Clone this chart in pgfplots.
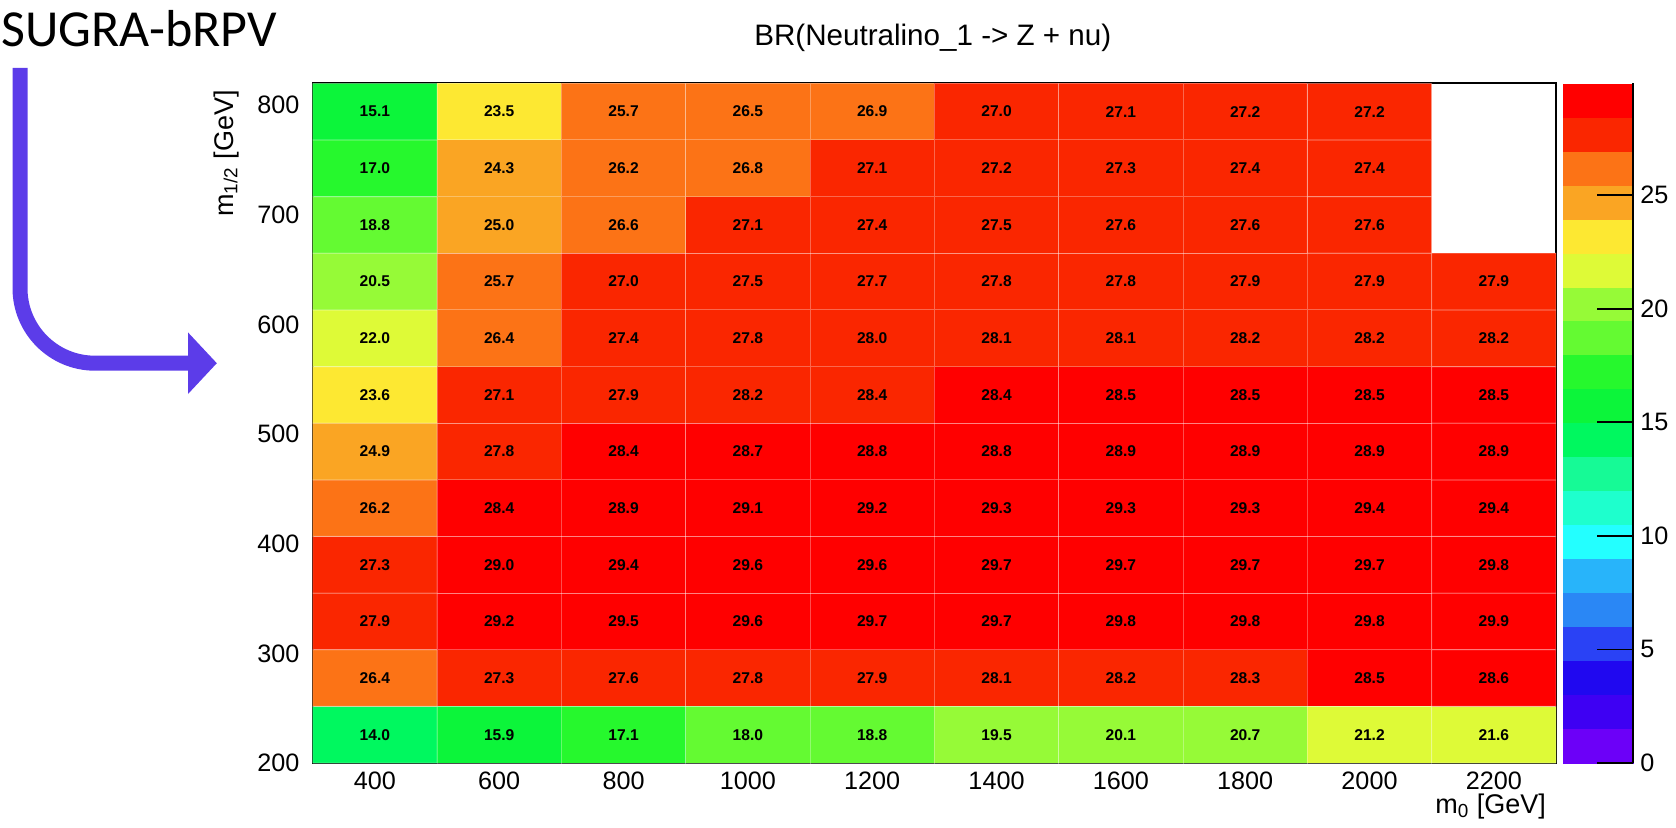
\documentclass[border=0pt]{standalone}
\usepackage{fontspec}
\setmainfont{Liberation Sans}
\newfontfamily\calibri{Carlito}
\usepackage{pgfplots}
\usepackage{pgfplotstable}
\pgfplotsset{compat=1.18}

\definecolor{arrowpurple}{RGB}{92,60,233}

% BR(chi_1^0 -> Z nu) in %, cells of 200 GeV in m0 and 620/12 GeV in m1/2
% rows m1/2 = 225.8 ... 639.2, all ten m0 columns
\pgfplotstableread{
x y v
400 225.8333 14.0
600 225.8333 15.9
800 225.8333 17.1
1000 225.8333 18.0
1200 225.8333 18.8
1400 225.8333 19.5
1600 225.8333 20.1
1800 225.8333 20.7
2000 225.8333 21.2
2200 225.8333 21.6
400 277.5 26.4
600 277.5 27.3
800 277.5 27.6
1000 277.5 27.8
1200 277.5 27.9
1400 277.5 28.1
1600 277.5 28.2
1800 277.5 28.3
2000 277.5 28.5
2200 277.5 28.6
400 329.1667 27.9
600 329.1667 29.2
800 329.1667 29.5
1000 329.1667 29.6
1200 329.1667 29.7
1400 329.1667 29.7
1600 329.1667 29.8
1800 329.1667 29.8
2000 329.1667 29.8
2200 329.1667 29.9
400 380.8333 27.3
600 380.8333 29.0
800 380.8333 29.4
1000 380.8333 29.6
1200 380.8333 29.6
1400 380.8333 29.7
1600 380.8333 29.7
1800 380.8333 29.7
2000 380.8333 29.7
2200 380.8333 29.8
400 432.5 26.2
600 432.5 28.44
800 432.5 28.9
1000 432.5 29.1
1200 432.5 29.2
1400 432.5 29.3
1600 432.5 29.3
1800 432.5 29.3
2000 432.5 29.4
2200 432.5 29.4
400 484.1667 24.9
600 484.1667 27.8
800 484.1667 28.44
1000 484.1667 28.7
1200 484.1667 28.8
1400 484.1667 28.8
1600 484.1667 28.9
1800 484.1667 28.9
2000 484.1667 28.9
2200 484.1667 28.9
400 535.8333 23.6
600 535.8333 27.1
800 535.8333 27.9
1000 535.8333 28.2
1200 535.8333 28.4
1400 535.8333 28.44
1600 535.8333 28.5
1800 535.8333 28.5
2000 535.8333 28.5
2200 535.8333 28.5
400 587.5 22.0
600 587.5 26.4
800 587.5 27.4
1000 587.5 27.8
1200 587.5 28.0
1400 587.5 28.1
1600 587.5 28.1
1800 587.5 28.2
2000 587.5 28.2
2200 587.5 28.2
400 639.1667 20.5
600 639.1667 25.7
800 639.1667 27.0
1000 639.1667 27.5
1200 639.1667 27.7
1400 639.1667 27.8
1600 639.1667 27.8
1800 639.1667 27.9
2000 639.1667 27.9
2200 639.1667 27.9
}\lowgrid

% rows m1/2 = 690.8 ... 794.2, no point at m0 = 2200
\pgfplotstableread{
x y v
400 690.8333 18.8
600 690.8333 25.0
800 690.8333 26.6
1000 690.8333 27.1
1200 690.8333 27.4
1400 690.8333 27.5
1600 690.8333 27.6
1800 690.8333 27.6
2000 690.8333 27.6
400 742.5 17.0
600 742.5 24.3
800 742.5 26.2
1000 742.5 26.8
1200 742.5 27.1
1400 742.5 27.2
1600 742.5 27.3
1800 742.5 27.4
2000 742.5 27.4
400 794.1667 15.1
600 794.1667 23.5
800 794.1667 25.7
1000 794.1667 26.5
1200 794.1667 26.9
1400 794.1667 27.0
1600 794.1667 27.1
1800 794.1667 27.2
2000 794.1667 27.2
}\highgrid

% ROOT "pretty" palette sampled at 20 contour levels
\pgfplotsset{
  colormap={rootpretty}{
    rgb255=(108,0,248)
    rgb255=(62,0,243)
    rgb255=(32,8,240)
    rgb255=(42,66,245)
    rgb255=(42,135,245)
    rgb255=(40,180,250)
    rgb255=(35,255,255)
    rgb255=(30,255,205)
    rgb255=(22,250,150)
    rgb255=(0,248,95)
    rgb255=(12,245,58)
    rgb255=(38,248,45)
    rgb255=(100,250,50)
    rgb255=(150,250,55)
    rgb255=(222,250,55)
    rgb255=(253,232,50)
    rgb255=(250,165,35)
    rgb255=(252,115,22)
    rgb255=(250,38,0)
    rgb255=(255,0,0)
  },
}

\newcommand\ticksize{\fontsize{12.6}{14}\selectfont}
\newcommand\cellsize{\fontsize{7.8}{9}\selectfont\bfseries}

\begin{document}
\begin{tikzpicture}
\path[use as bounding box] (0pt,0pt) rectangle (838pt,413.5pt);

\begin{axis}[
  at={(156.35pt,32pt)}, anchor=south west,
  scale only axis, width=621.65pt, height=339.85pt,
  xmin=300, xmax=2300, ymin=200, ymax=820,
  xtick={400,600,...,2200}, ytick={200,300,...,800},
  minor x tick num=3, minor y tick num=4,
  tick align=inside, xtick pos=bottom, ytick pos=left,
  xtick style={black, line width=0.9pt,
    /pgfplots/major tick length=10pt, /pgfplots/minor tick length=5pt},
  ytick style={black, line width=0.9pt,
    /pgfplots/major tick length=18.5pt, /pgfplots/minor tick length=9.5pt},
  axis line style={line width=0.9pt},
  tick label style={font=\ticksize},
  xticklabel style={inner sep=0pt, yshift=-4.3pt},
  yticklabel style={inner sep=0pt, xshift=-6.4pt},
  /pgf/number format/assume math mode=true,
  /pgf/number format/1000 sep={},
  colormap name=rootpretty,
  colormap access=piecewise constant,
  point meta min=0, point meta max=29.92,
  colorbar,
  colorbar shift/.style={},
  colorbar style={
    at={(parent axis.south east)}, anchor=south west, xshift=3.5pt,
    scale only axis, width=35pt, height=339.85pt,
    axis x line=none, axis y line*=right,
    axis line style={line width=0.9pt},
    ytick={0,5,...,25}, minor y tick num=0,
    tick align=inside,
    ytick style={black, line width=0.9pt, /pgfplots/major tick length=18pt},
    yticklabel style={font=\ticksize, inner sep=0pt, xshift=3.5pt},
    /pgf/number format/assume math mode=true,
  },
]
\addplot[matrix plot*, mesh/cols=10, point meta=explicit,
  shader=faceted, faceted color=white, draw opacity=0.3, line width=0.5pt]
  table[x=x, y=y, meta=v] {\lowgrid};
\addplot[matrix plot*, mesh/cols=9, point meta=explicit,
  shader=faceted, faceted color=white, draw opacity=0.3, line width=0.5pt]
  table[x=x, y=y, meta=v] {\highgrid};

% cell values
\addplot[only marks, mark=none, point meta=explicit,
  nodes near coords,
  every node near coord/.append style={anchor=center, font=\cellsize, text=black},
  /pgf/number format/.cd, fixed, fixed zerofill, precision=1, assume math mode=true]
  table[x=x, y=y, meta=v] {\lowgrid};
\addplot[only marks, mark=none, point meta=explicit,
  nodes near coords,
  every node near coord/.append style={anchor=center, font=\cellsize, text=black},
  /pgf/number format/.cd, fixed, fixed zerofill, precision=1, assume math mode=true]
  table[x=x, y=y, meta=v] {\highgrid};
\end{axis}

% titles
\node[anchor=base, font=\fontsize{14.8}{16}\selectfont] at (466.4pt,390.5pt)
  {BR(Neutralino\_1 -> Z + nu)};
\node[anchor=base east, font=\fontsize{13.5}{15}\selectfont] at (776.5pt,6.75pt)
  {m\textsubscript{0} [GeV]};
\node[anchor=base east, rotate=90, font=\fontsize{13.5}{15}\selectfont] at (116.5pt,371.8pt)
  {m\textsubscript{1/2} [GeV]};

% slide annotation
\node[anchor=base west, inner sep=0pt, font=\calibri\fontsize{26}{30}\selectfont]
  at (0.5pt,390pt) {SUGRA-bRPV};
\draw[arrowpurple, line width=7.5pt, rounded corners=37.5pt]
  (10pt,379.5pt) -- (10pt,231.9pt) -- (94.5pt,231.9pt);
\fill[arrowpurple] (94pt,247.3pt) -- (108.4pt,231.9pt) -- (94pt,216.5pt) -- cycle;
\end{tikzpicture}
\end{document}
